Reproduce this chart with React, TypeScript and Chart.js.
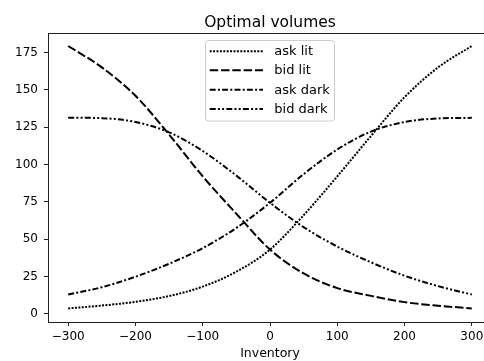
import { useEffect, useRef } from "react";
import { Chart, registerables } from "chart.js";
Chart.register(...registerables);

const inventory = [-300, -250, -200, -150, -100, -50, 0, 50, 100, 150, 200, 250, 300];
const askLit = [3.6, 5.5, 8.0, 11.9, 18.2, 28.2, 43, 66, 92, 119, 145, 165, 179.3];
const bidLit = [179.3, 165, 146, 120, 92, 67, 43, 27, 17.2, 12, 7.8, 5.4, 3.6];
const askDark = [12.9, 17.8, 24.8, 33.5, 44, 57.5, 74.3, 93.5, 110, 122, 128.4, 130.8, 131.2];
const bidDark = [131.3, 131, 128.4, 121.5, 109, 92.5, 74.3, 58, 45, 34.5, 25.5, 18.5, 12.9];
const seriesNames = ["ask lit", "bid lit", "ask dark", "bid dark"];
const xTicks = [-300, -200, -100, 0, 100, 200, 300];
const yTicks = [0, 25, 50, 75, 100, 125, 150, 175];
const titleText = "Optimal volumes";
const xLabel = "Inventory";

const dashes = [[2, 1.4], [8.5, 2.8], [6, 2.2, 2, 2.2], [6, 2.2, 2, 2.2, 2, 2.2]];
const LW = 2;
const FONT = "'DejaVu Sans', sans-serif";

const fmt = (v: number) => (v < 0 ? "\u2212" + Math.abs(v) : String(v));

const deco = {
  id: "deco",
  afterDraw(chart: any) {
    const { ctx, chartArea: a } = chart;
    ctx.save();
    ctx.strokeStyle = "#222";
    ctx.lineWidth = 1;
    ctx.setLineDash([]);
    ctx.beginPath();
    ctx.moveTo(a.left, Math.round(a.top) + 0.5);
    ctx.lineTo(a.right, Math.round(a.top) + 0.5);
    ctx.stroke();

    const cx = (a.left + a.right) / 2;
    ctx.fillStyle = "#000";
    ctx.textAlign = "center";
    ctx.textBaseline = "alphabetic";
    ctx.font = `15.5px ${FONT}`;
    ctx.fillText(titleText, cx, 26.5);
    ctx.font = `12.5px ${FONT}`;
    ctx.fillText(xLabel, cx, 356.5);

    // legend
    const bx = 205.5, by = 40.5, bw = 129, bh = 80.5, r = 3;
    ctx.beginPath();
    ctx.moveTo(bx + r, by);
    ctx.lineTo(bx + bw - r, by);
    ctx.quadraticCurveTo(bx + bw, by, bx + bw, by + r);
    ctx.lineTo(bx + bw, by + bh - r);
    ctx.quadraticCurveTo(bx + bw, by + bh, bx + bw - r, by + bh);
    ctx.lineTo(bx + r, by + bh);
    ctx.quadraticCurveTo(bx, by + bh, bx, by + bh - r);
    ctx.lineTo(bx, by + r);
    ctx.quadraticCurveTo(bx, by, bx + r, by);
    ctx.closePath();
    ctx.fillStyle = "rgba(255,255,255,0.8)";
    ctx.fill();
    ctx.strokeStyle = "#cccccc";
    ctx.stroke();

    const rows = [51.3, 70.3, 89.7, 109];
    ctx.textAlign = "left";
    ctx.textBaseline = "middle";
    ctx.font = `13px ${FONT}`;
    seriesNames.forEach((n, i) => {
      ctx.strokeStyle = "#000";
      ctx.lineWidth = LW;
      ctx.lineCap = "butt";
      ctx.setLineDash(dashes[i]);
      ctx.beginPath();
      ctx.moveTo(209.7, rows[i]);
      ctx.lineTo(263, rows[i]);
      ctx.stroke();
      ctx.setLineDash([]);
      ctx.fillStyle = "#000";
      ctx.fillText(n, 274.3, rows[i] + 0.5);
    });
    ctx.restore();
  },
};

export default function App() {
  const ref = useRef<HTMLCanvasElement>(null);
  useEffect(() => {
    document.body.style.margin = "0";
    document.body.style.overflow = "hidden";
    const series = [askLit, bidLit, askDark, bidDark];
    const chart = new Chart(ref.current!, {
      type: "line",
      data: {
        datasets: series.map((s, i) => ({
          label: seriesNames[i],
          data: s.map((y, j) => ({ x: inventory[j], y })),
          borderColor: "#000",
          backgroundColor: "#000",
          borderWidth: LW,
          borderDash: dashes[i],
          pointRadius: 0,
          fill: false,
          cubicInterpolationMode: "monotone" as const,
        })),
      },
      options: {
        animation: false,
        responsive: false,
        devicePixelRatio: 1,
        layout: { padding: { top: 33, right: 8, left: 0, bottom: 0 } },
        plugins: { legend: { display: false }, title: { display: false }, tooltip: { enabled: false } },
        scales: {
          x: {
            type: "linear",
            min: -330,
            max: 330,
            afterBuildTicks: (s: any) => {
              s.ticks = xTicks.map((v) => ({ value: v }));
            },
            afterFit: (s: any) => {
              s.height = 39;
            },
            ticks: {
              autoSkip: false,
              maxRotation: 0,
              padding: 4,
              color: "#000",
              font: { family: FONT, size: 12 },
              callback: (v: any) => fmt(Number(v)),
            },
            grid: { display: true, drawOnChartArea: false, drawTicks: true, tickLength: 4, tickColor: "#222", tickWidth: 1 },
            border: { display: true, color: "#222", width: 1 },
          },
          y: {
            type: "linear",
            min: -5.5,
            max: 188,
            afterBuildTicks: (s: any) => {
              s.ticks = yTicks.map((v) => ({ value: v }));
            },
            afterFit: (s: any) => {
              s.width = 48;
            },
            ticks: {
              autoSkip: false,
              padding: 6,
              color: "#000",
              font: { family: FONT, size: 12 },
              callback: (v: any) => fmt(Number(v)),
            },
            grid: { display: true, drawOnChartArea: false, drawTicks: true, tickLength: 4, tickColor: "#222", tickWidth: 1 },
            border: { display: true, color: "#222", width: 1 },
          },
        },
      },
      plugins: [deco],
    });
    return () => chart.destroy();
  }, []);
  return (
    <div style={{ position: "fixed", left: 0, top: 0, width: 484, height: 361, overflow: "hidden" }}>
      <canvas ref={ref} width={500} height={361} style={{ width: "500px", height: "361px", display: "block" }} />
    </div>
  );
}
